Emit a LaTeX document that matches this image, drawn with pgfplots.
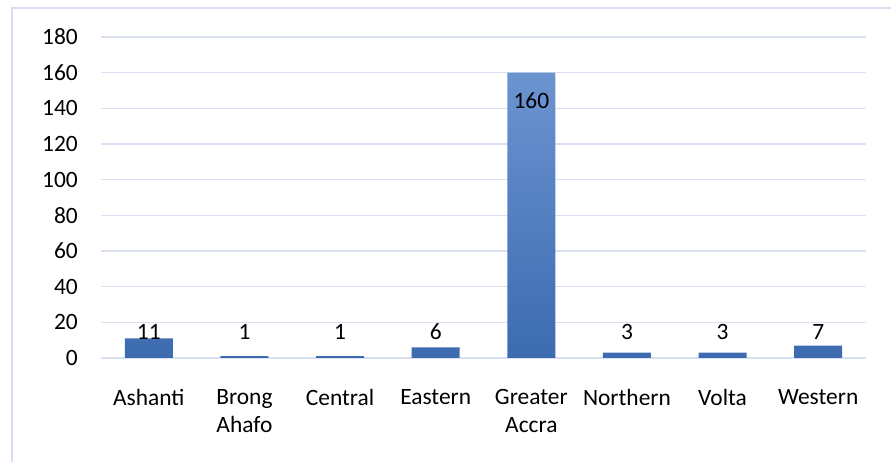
\documentclass[border=0pt]{standalone}
\usepackage{pgfplots}
\pgfplotsset{compat=1.18}
\usepackage{pgfplotstable}
\usetikzlibrary{calc}
\usepackage{fontspec}
\setmainfont{Carlito}

\definecolor{gridc}{RGB}{217,225,240}
\definecolor{framec}{RGB}{214,223,241}
\definecolor{bartop}{RGB}{108,148,209}
\definecolor{barbot}{RGB}{60,107,176}

% Cases per region
\pgfplotstableread{
idx n
0 11
1 1
2 1
3 6
4 160
5 3
6 3
7 7
}\regiondata

\begin{document}
\begin{tikzpicture}[x=1bp,y=1bp]
\begin{axis}[
  name=ax, at={(0,0)}, anchor=south west,
  scale only axis, width=765bp, height=321bp,
  ybar, bar width=48bp,
  xmin=-0.5, xmax=7.5, ymin=0, ymax=180,
  ytick={0,20,...,180},
  xtick={0,...,7},
  xticklabels={Ashanti,{Brong\\Ahafo},Central,Eastern,{Greater\\Accra},Northern,Volta,Western},
  axis line style={draw=none},
  major tick length=0pt,
  ymajorgrids, grid style={gridc, line width=1.4bp},
  font=\fontsize{23.5}{28}\selectfont,
  /pgf/number format/assume math mode=true,
  yticklabel style={anchor=east, inner sep=0pt, xshift=-23bp},
  xticklabel style={anchor=north, align=center, inner sep=0pt, yshift=-31bp, text depth=0pt},
  clip=false,
  visualization depends on={ifthenelse(\thisrow{n}>100,-36,(10.1-\thisrow{n})*321/180) \as \dy},
  nodes near coords,
  every node near coord/.append style={anchor=base, inner sep=0pt, yshift=\dy bp, text=black,
     font=\fontsize{23.5}{28}\selectfont},
]
\addplot[draw=none, top color=bartop, bottom color=barbot, bar shift=0pt] table[x=idx, y=n] {\regiondata};
\end{axis}
% page area and the chart frame
\pgfresetboundingbox
\coordinate (o) at ($(ax.south west)+(-101,-104)$);
\path[use as bounding box] (o) rectangle ++(891,462);
\draw[framec, line width=2.2bp] ($(o)+(12,-3)$) -- ($(o)+(12,454)$) -- ($(o)+(895,454)$);
\end{tikzpicture}
\end{document}
